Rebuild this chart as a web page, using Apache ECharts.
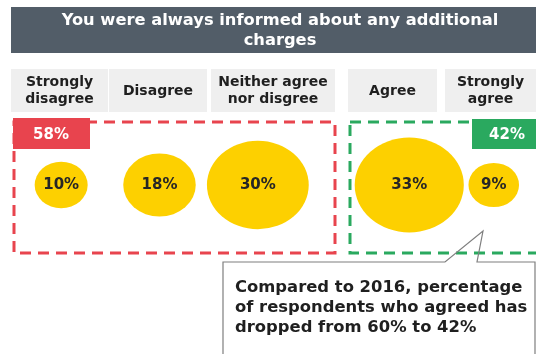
<!DOCTYPE html>
<html><head><meta charset="utf-8">
<script src="https://cdn.jsdelivr.net/npm/echarts@6/dist/echarts.min.js"></script>
<style>html,body{margin:0;padding:0;background:#fff}#c{width:536px;height:354px}</style>
</head><body><div id="c"></div>
<script>
// ---- data ----
const titleText = 'You were always informed about any additional\ncharges';
const categories = ['Strongly\ndisagree', 'Disagree', 'Neither agree\nnor disgree', 'Agree', 'Strongly\nagree'];
const values = [10, 18, 30, 33, 9];
const disagreeCount = 3; // first three categories = not-agree group
const noteText = 'Compared to 2016, percentage\nof respondents who agreed has\ndropped from 60% to 42%';

// ---- layout / style ----
const FONT = 'DejaVu Sans';
const RED = '#e8444e', GREEN = '#2aa95f', YELLOW = '#fdd000', DARK = '#1f1f1f';
const headerBoxes = [[11, 108], [109, 207], [211, 335], [348, 437], [445, 536]];

const leftVals = values.slice(0, disagreeCount);
const rightVals = values.slice(disagreeCount);
const sum = a => a.reduce((s, v) => s + v, 0);

function bubbleSize(v) { return [28.6 + 2.44 * v, 25.3 + 2.105 * v]; }

const graphics = [];
// title bar
graphics.push({ type: 'rect', shape: { x: 11, y: 7, width: 525, height: 46 }, style: { fill: '#525d68' } });
graphics.push({ type: 'text', x: 280, y: 31, style: { text: titleText, fill: '#ffffff', font: 'bold 16.3px ' + FONT, align: 'center', verticalAlign: 'middle', lineHeight: 20 } });
// header boxes
categories.forEach((c, i) => {
  const b = headerBoxes[i];
  graphics.push({ type: 'rect', shape: { x: b[0], y: 69, width: b[1] - b[0], height: 43 }, style: { fill: '#efefef' } });
  graphics.push({ type: 'text', x: (b[0] + b[1]) / 2, y: 91, style: { text: c, fill: DARK, font: 'bold 14px ' + FONT, align: 'center', verticalAlign: 'middle', lineHeight: 17 } });
});
// dashed group boxes
graphics.push({ type: 'rect', shape: { x: 14, y: 122, width: 321, height: 131 }, style: { fill: 'none', stroke: RED, lineWidth: 3, lineDash: [11, 7] } });
graphics.push({ type: 'rect', shape: { x: 350, y: 122, width: 200, height: 131 }, style: { fill: 'none', stroke: GREEN, lineWidth: 3, lineDash: [11, 7] } });
// badges
graphics.push({ type: 'rect', shape: { x: 13, y: 118, width: 77, height: 31 }, style: { fill: RED } });
graphics.push({ type: 'text', x: 51, y: 135, style: { text: sum(leftVals) + '%', fill: '#fff', font: 'bold 15px ' + FONT, align: 'center', verticalAlign: 'middle' } });
graphics.push({ type: 'rect', shape: { x: 472, y: 119, width: 70, height: 30 }, style: { fill: GREEN } });
graphics.push({ type: 'text', x: 507, y: 135, style: { text: sum(rightVals) + '%', fill: '#fff', font: 'bold 15px ' + FONT, align: 'center', verticalAlign: 'middle' } });
// callout
graphics.push({ type: 'polyline', shape: { points: [[223, 360], [223, 262], [445, 262], [483, 231], [477, 262], [535, 262], [535, 360]] }, style: { fill: 'none', stroke: '#7f7f7f', lineWidth: 1.2 } });
graphics.push({ type: 'text', x: 235, y: 278, style: { text: noteText, fill: DARK, font: 'bold 16.4px ' + FONT, align: 'left', verticalAlign: 'top', lineHeight: 20 } });

function bubbleSeries(vals, gi) {
  return {
    type: 'scatter', xAxisIndex: gi, yAxisIndex: gi, clip: false, silent: true,
    data: vals.map((v, i) => [i, 0, v]),
    symbolSize: d => bubbleSize(d[2]),
    itemStyle: { color: YELLOW, opacity: 1 },
    label: { show: true, position: 'inside', formatter: p => p.value[2] + '%', fontFamily: FONT, fontWeight: 'bold', fontSize: 15, color: '#262626' }
  };
}

const chart = echarts.init(document.getElementById('c'), null, { renderer: 'canvas' });
chart.setOption({
  animation: false,
  backgroundColor: '#ffffff',
  grid: [
    { left: 12, top: 122, width: 295, height: 126 },
    { left: 367, top: 122, width: 181, height: 126 }
  ],
  xAxis: [
    { type: 'value', gridIndex: 0, min: -0.5, max: 2.5, show: false },
    { type: 'value', gridIndex: 1, min: -0.5, max: 1.5, show: false }
  ],
  yAxis: [
    { type: 'value', gridIndex: 0, min: -1, max: 1, show: false },
    { type: 'value', gridIndex: 1, min: -1, max: 1, show: false }
  ],
  graphic: { elements: graphics },
  series: [bubbleSeries(leftVals, 0), bubbleSeries(rightVals, 1)]
});
</script></body></html>
